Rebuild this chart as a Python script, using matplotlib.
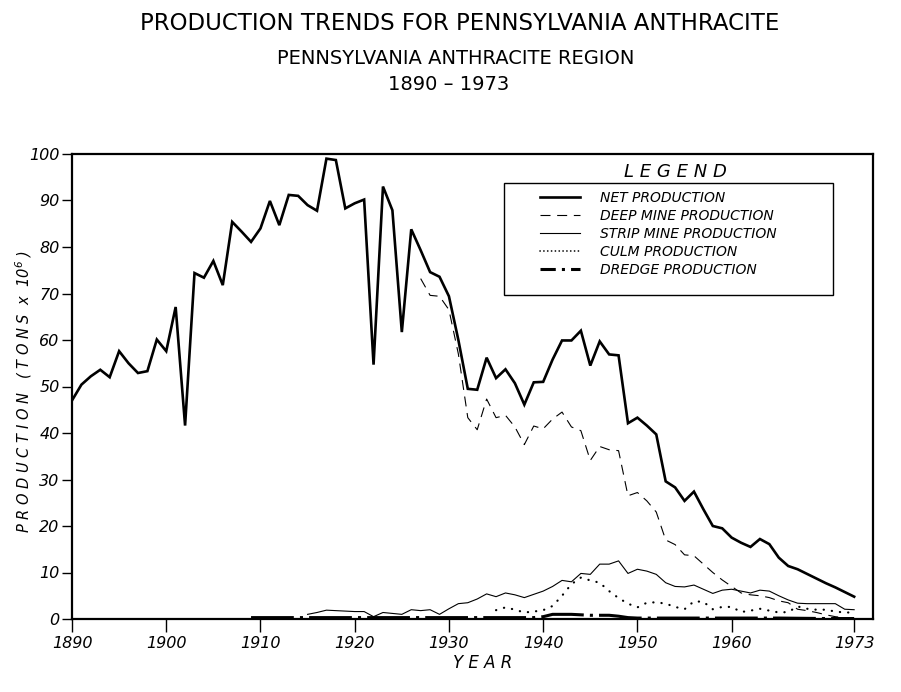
import matplotlib
matplotlib.use('Agg')
import matplotlib.pyplot as plt
from matplotlib.lines import Line2D
from matplotlib.patches import Rectangle

# years and production in millions of tons
net_years = list(range(1890, 1974))
net = [47.0, 50.4, 52.2, 53.6, 52.0, 57.6, 55.0, 52.9, 53.3, 60.1,
       57.6, 67.1, 41.6, 74.4, 73.4, 77.0, 71.8, 85.4, 83.3, 81.1,
       84.0, 89.9, 84.7, 91.2, 91.0, 89.0, 87.8, 99.0, 98.7, 88.3,
       89.4, 90.2, 54.7, 93.0, 87.9, 61.7, 83.8, 79.3, 74.6, 73.6,
       69.4, 60.0, 49.5, 49.3, 56.2, 51.8, 53.7, 50.7, 46.1, 50.9,
       51.0, 55.8, 59.9, 59.9, 62.0, 54.5, 59.7, 56.9, 56.7, 42.1,
       43.3, 41.6, 39.7, 29.6, 28.3, 25.4, 27.4, 23.6, 20.0, 19.5,
       17.5, 16.4, 15.5, 17.2, 16.1, 13.2, 11.4, 10.7, 9.7, 8.7,
       7.7, 6.8, 5.8, 4.8]

deep_years = list(range(1927, 1974))
deep = [73.2, 69.6, 69.4, 66.5, 57.0, 43.3, 40.7, 47.3, 43.3, 43.8,
        41.3, 37.5, 41.5, 40.9, 43.0, 44.5, 41.3, 40.5, 34.1, 37.1,
        36.4, 36.2, 26.5, 27.2, 25.4, 23.0, 17.0, 16.0, 13.8, 13.6,
        11.8, 10.0, 8.4, 7.0, 5.6, 5.2, 5.0, 4.6, 3.9, 3.5,
        2.1, 1.8, 1.4, 0.9, 0.5, 0.3, 0.0]

strip_years = list(range(1915, 1974))
strip = [1.0, 1.4, 1.9, 1.8, 1.7, 1.6, 1.6, 0.5, 1.4, 1.2,
         1.0, 2.0, 1.8, 2.0, 1.0, 2.2, 3.3, 3.5, 4.3, 5.4,
         4.8, 5.6, 5.2, 4.6, 5.3, 6.0, 7.0, 8.3, 8.0, 9.8,
         9.6, 11.8, 11.8, 12.5, 9.8, 10.7, 10.3, 9.6, 7.8, 7.0,
         6.9, 7.3, 6.4, 5.5, 6.2, 6.4, 6.0, 5.6, 6.2, 6.0,
         5.0, 4.1, 3.4, 3.3, 3.3, 3.3, 3.3, 2.1, 2.0]

culm_years = list(range(1935, 1974))
culm = [1.9, 2.5, 2.0, 1.4, 1.6, 1.9, 2.8, 5.0, 7.5, 8.9,
        8.3, 7.8, 6.0, 4.5, 3.3, 2.5, 3.5, 3.6, 3.3, 2.6,
        2.1, 3.8, 3.7, 2.1, 2.6, 2.6, 1.5, 1.8, 2.2, 1.8,
        1.4, 1.5, 2.7, 2.2, 2.0, 2.0, 1.6, 1.4, 1.4]

dredge_years = [1909, 1915, 1920, 1925, 1930, 1935, 1939, 1940, 1941, 1942,
                1943, 1944, 1945, 1946, 1947, 1948, 1949, 1950, 1955, 1960,
                1965, 1970, 1973]
dredge = [0.3, 0.3, 0.3, 0.3, 0.3, 0.3, 0.3, 0.5, 1.0, 1.0,
          1.0, 0.9, 0.8, 0.8, 0.8, 0.6, 0.3, 0.2, 0.2, 0.2,
          0.2, 0.1, 0.1]

xticks = [1890, 1900, 1910, 1920, 1930, 1940, 1950, 1960, 1973]
yticks = [0, 10, 20, 30, 40, 50, 60, 70, 80, 90, 100]

labels = ['NET PRODUCTION', 'DEEP MINE PRODUCTION', 'STRIP MINE PRODUCTION',
          'CULM PRODUCTION', 'DREDGE PRODUCTION']

plt.rcParams['font.family'] = ['DejaVu Sans']
plt.rcParams['mathtext.default'] = 'regular'

fig = plt.figure(figsize=(9.01, 6.92), dpi=100)
ax = fig.add_axes([72/901, 1-619/692, (873-72)/901, (619-154)/692])

net_style = dict(color='black', lw=1.9, solid_joinstyle='miter')
deep_style = dict(color='black', lw=0.8, linestyle=(0, (9, 6)))
strip_style = dict(color='black', lw=0.8)
culm_style = dict(color='black', lw=1.6, linestyle=(0, (0.1, 3.6)), dash_capstyle='round')
dredge_style = dict(color='black', lw=2.2, linestyle=(0, (14, 2, 1, 2)))

ax.plot(dredge_years, dredge, zorder=2, **dredge_style)
ax.plot(culm_years, culm, zorder=3, **culm_style)
ax.plot(strip_years, strip, zorder=3, **strip_style)
ax.plot(deep_years, deep, zorder=4, **deep_style)
ax.plot(net_years, net, zorder=5, **net_style)

ax.set_xlim(1890, 1975)
ax.set_ylim(0, 100)
ax.set_xticks(xticks)
ax.set_yticks(yticks)
ax.set_xticklabels([str(t) for t in xticks], fontsize=11.5, style='italic')
ax.set_yticklabels([str(t) for t in yticks], fontsize=11.5, style='italic')
ax.tick_params(axis='x', length=9, width=1, direction='out', pad=3)
ax.tick_params(axis='y', length=7, width=1, direction='out', pad=2)
for s in ax.spines.values():
    s.set_linewidth(1.6)

ax.set_xlabel('Y E A R', fontsize=12, style='italic')
ax.xaxis.set_label_coords((483-72)/(873-72), -0.075)
ax.set_ylabel('P R O D U C T I O N   ( T O N S  x  10$^6$ )', fontsize=10.5, style='italic')
ax.yaxis.set_label_coords(-(72-34)/(873-72), 0.49)

# legend box and heading
fig.patches.append(Rectangle((504/901, 1-295/692), (833-504)/901, (295-183)/692,
                             transform=fig.transFigure, fill=True, facecolor='white',
                             edgecolor='black', lw=1.0, zorder=6))
fig.text(675/901, 1-172/692, 'L E G E N D', ha='center', va='center',
         fontsize=13, style='italic')

handles = [Line2D([0], [0], **net_style), Line2D([0], [0], **deep_style),
           Line2D([0], [0], **strip_style),
           Line2D([0], [0], color='black', lw=1.2, linestyle=(0, (0.1, 2.2)), dash_capstyle='round'),
           Line2D([0], [0], color='black', lw=2.2, linestyle=(0, (5, 2, 1, 2)))]
leg = fig.legend(handles, labels, loc='upper left', bbox_to_anchor=(540/901, 1-191/692),
                 bbox_transform=fig.transFigure, frameon=False, borderpad=0,
                 borderaxespad=0, handlelength=2.9, handletextpad=1.4,
                 labelspacing=0.28, prop={'size': 10, 'style': 'italic'})
leg.set_zorder(7)

fig.text(460/901, 1-24/692, 'PRODUCTION TRENDS FOR PENNSYLVANIA ANTHRACITE',
         ha='center', va='center', fontsize=16.5)
fig.text(456/901, 1-59/692, 'PENNSYLVANIA ANTHRACITE REGION',
         ha='center', va='center', fontsize=14)
fig.text(449/901, 1-85/692, '1890 – 1973', ha='center', va='center', fontsize=14)

fig.savefig('out.png', dpi=100)
